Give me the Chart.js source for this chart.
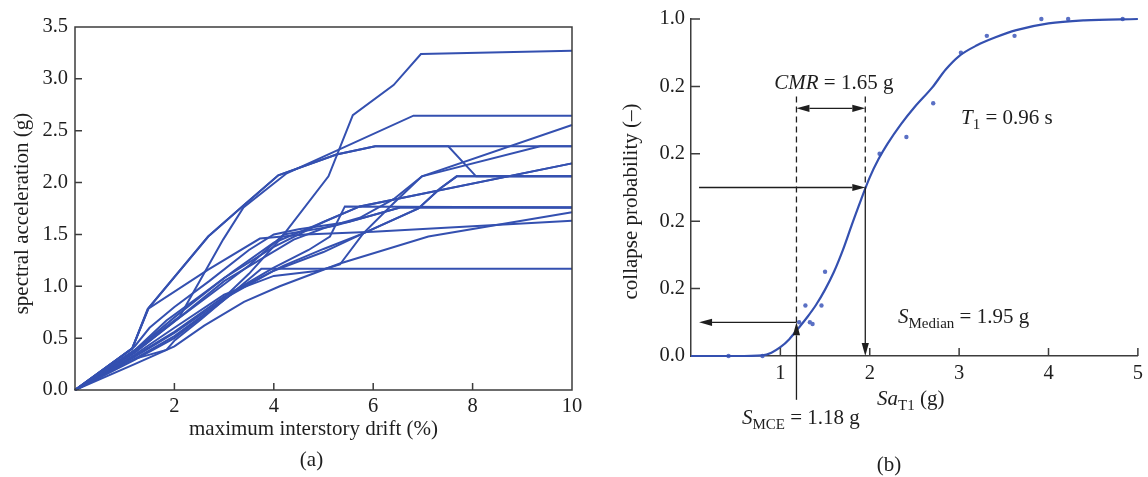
<!DOCTYPE html>
<html>
<head>
<meta charset="utf-8">
<script src="https://cdn.jsdelivr.net/npm/chart.js@4"></script>
<style>
  html, body { margin: 0; padding: 0; background: #fff; }
  #wrap { position: relative; width: 1148px; height: 477px; }
  canvas { position: absolute; top: 0; }
  #ida { left: 0; }
  #frag { left: 600px; }
</style>
</head>
<body>
<div id="wrap">
  <canvas id="ida" width="600" height="477"></canvas>
  <canvas id="frag" width="548" height="477"></canvas>
</div>
<script>
"use strict";

// (a) IDA curves, one per record: [max interstory drift (%), Sa (g)]
const ida01 = [[0,0],[1.2,0.30],[2.0,0.52],[2.8,0.80],[3.5,1.12],[4.12,1.45],[5.10,2.06],[5.59,2.65],[6.41,2.94],[6.96,3.24],[10,3.27]];
const ida02 = [[0,0],[1.2,0.38],[2.11,0.71],[2.98,1.45],[3.39,1.76],[4.26,2.09],[6.81,2.645],[10,2.645]];
const ida03 = [[0,0],[1.15,0.40],[1.48,0.79],[2.68,1.48],[3.39,1.78],[4.09,2.07],[5.26,2.27],[6.04,2.35],[10,2.35]];
const ida04 = [[0,0],[1.15,0.40],[1.48,0.79],[2.68,1.48],[3.39,1.78],[4.09,2.07],[5.26,2.27],[6.04,2.35],[7.51,2.35],[8.07,2.06],[10,2.06]];
const ida05 = [[0,0],[1.2,0.34],[2.0,0.60],[3.0,0.92],[4.0,1.10],[4.9,1.15],[5.33,1.21],[5.80,1.51],[6.41,1.80],[6.98,2.06],[10,2.555]];
const ida06 = [[0,0],[1.2,0.36],[2.0,0.66],[3.0,1.05],[3.6,1.22],[4.4,1.45],[5.0,1.56],[5.73,1.66],[6.41,1.84],[6.98,2.06],[9.36,2.35],[10,2.35]];
const ida07 = [[0,0],[1.2,0.38],[2.0,0.70],[3.0,1.08],[4.0,1.38],[5.0,1.62],[5.73,1.77],[10,2.185]];
const ida08 = [[0,0],[1.2,0.32],[2.0,0.55],[3.0,0.88],[4.0,1.15],[5.0,1.33],[5.8,1.51],[6.91,1.75],[7.34,1.94],[7.68,2.06],[10,2.06]];
const ida09 = [[0,0],[1.2,0.33],[2.0,0.56],[3.0,0.90],[4.0,1.18],[4.7,1.35],[5.13,1.48],[5.43,1.77],[10,1.76]];
const ida10 = [[0,0],[1.2,0.36],[2.0,0.66],[3.0,1.02],[3.5,1.20],[4.2,1.50],[5.2,1.58],[6.54,1.76],[10,1.76]];
const ida11 = [[0,0],[1.2,0.25],[2.0,0.42],[2.6,0.62],[3.4,0.85],[4.12,1.0],[5.33,1.22],[7.11,1.48],[10,1.714]];
const ida12 = [[0,0],[1.15,0.40],[1.46,0.78],[2.68,1.16],[3.72,1.46],[4.63,1.50],[6.0,1.527],[10,1.633]];
const ida13 = [[0,0],[1.2,0.30],[1.84,0.386],[2.01,0.48],[2.52,0.675],[3.2,0.95],[3.75,1.17],[10,1.17]];
const ida14 = [[0,0],[1.24,0.40],[1.84,0.67],[2.5,0.90],[3.2,1.15],[4.0,1.42],[4.8,1.58],[5.73,1.77],[10,2.185]];
const ida15 = [[0,0],[1.2,0.42],[1.5,0.60],[2.0,0.80],[2.7,1.05],[3.5,1.35],[4.0,1.50],[4.5,1.55],[5.5,1.62],[6.54,1.76],[10,1.76]];
const ida16 = [[0,0],[1.2,0.29],[2.0,0.50],[2.6,0.72],[3.3,0.98],[4.2,1.20],[5.0,1.36],[5.8,1.51],[6.91,1.75],[7.34,1.94],[7.68,2.06],[10,2.06]];
const idaCurves = [ida01, ida02, ida03, ida04, ida05, ida06, ida07, ida08,
                   ida09, ida10, ida11, ida12, ida13, ida14, ida15, ida16];

// (b) fitted fragility curve
const fitSa = [0, 0.5, 0.8, 0.9, 1.0, 1.1, 1.2, 1.3, 1.4, 1.5, 1.6, 1.7, 1.8, 1.9, 2.0, 2.1,
               2.2, 2.35, 2.5, 2.7, 2.85, 3.0, 3.2, 3.4, 3.64, 4.0, 4.4, 5.0];
const fitP  = [0, 0, 0.002, 0.01, 0.026, 0.05, 0.082, 0.115, 0.152, 0.197, 0.25, 0.315, 0.39, 0.462, 0.53, 0.585,
               0.63, 0.688, 0.738, 0.797, 0.85, 0.89, 0.922, 0.945, 0.967, 0.987, 0.996, 1.0];
// (b) collapse fraction counted at each intensity level
const recSa = [0.42, 0.80, 1.21, 1.28, 1.33, 1.36, 1.46, 1.50, 2.11, 2.41, 2.71, 3.02, 3.31, 3.62, 3.92, 4.22, 4.83];
const recP  = [0, 0, 0.10, 0.15, 0.10, 0.095, 0.15, 0.25, 0.60, 0.65, 0.75, 0.90, 0.95, 0.95, 1.0, 1.0, 1.0];

const probTickText = ["0.0", "0.2", "0.2", "0.2", "0.2", "1.0"];

// (b) annotated values
const sMce = 1.18;
const sMedian = 1.95;
const cmr = 1.65;
const pAtMce = 0.10;
const pMedian = 0.5;
const period = 0.96;

const SERIF = '"Liberation Serif", "Times New Roman", serif';
const BLUE = "#3450b0";
const DOT = "#5a70c4";
const AXIS = "#3c3c3c";
const INK = "#1e1e1e";

function drawRuns(ctx, runs, x, y, align) {
    let w = 0;
    runs.forEach(r => { ctx.font = r.font; w += ctx.measureText(r.t).width; });
    let cx = align === "center" ? x - w / 2 : x;
    ctx.textAlign = "left";
    ctx.textBaseline = "alphabetic";
    runs.forEach(r => {
        ctx.font = r.font;
        ctx.fillText(r.t, cx, y + (r.dy || 0));
        cx += ctx.measureText(r.t).width;
    });
}

function arrow(ctx, x1, y1, x2, y2, both) {
    const len = 13, half = 3.6;
    const d = Math.hypot(x2 - x1, y2 - y1);
    const ux = (x2 - x1) / d, uy = (y2 - y1) / d;
    const sx = both ? x1 + ux * len : x1, sy = both ? y1 + uy * len : y1;
    ctx.beginPath();
    ctx.moveTo(sx, sy);
    ctx.lineTo(x2 - ux * len, y2 - uy * len);
    ctx.stroke();
    const head = (tx, ty, dx, dy) => {
        ctx.beginPath();
        ctx.moveTo(tx, ty);
        ctx.lineTo(tx - dx * len - dy * half, ty - dy * len + dx * half);
        ctx.lineTo(tx - dx * len + dy * half, ty - dy * len - dx * half);
        ctx.closePath();
        ctx.fill();
    };
    head(x2, y2, ux, uy);
    if (both) head(x1, y1, -ux, -uy);
}

const F_MAIN = "21px " + SERIF;
const F_ITAL = "italic 21px " + SERIF;
const F_SUB = "15px " + SERIF;

const idaFrame = {
    id: "idaFrame",
    afterDraw(chart) {
        const {ctx, chartArea: a, scales: {x, y}} = chart;
        ctx.save();
        ctx.strokeStyle = AXIS;
        ctx.lineWidth = 1.5;
        ctx.strokeRect(a.left, a.top, a.right - a.left, a.bottom - a.top);
        ctx.beginPath();
        x.ticks.forEach(t => {
            if (t.value > x.min && t.value < x.max) {
                const px = x.getPixelForValue(t.value);
                ctx.moveTo(px, a.bottom);
                ctx.lineTo(px, a.bottom - 7);
            }
        });
        y.ticks.forEach(t => {
            if (t.value > y.min && t.value < y.max) {
                const py = y.getPixelForValue(t.value);
                ctx.moveTo(a.left, py);
                ctx.lineTo(a.left + 7, py);
            }
        });
        ctx.stroke();

        ctx.fillStyle = INK;
        ctx.font = F_MAIN;
        ctx.textAlign = "center";
        ctx.textBaseline = "alphabetic";
        const mid = (a.left + a.right) / 2;
        ctx.fillText("maximum interstory drift (%)", mid - 10, a.bottom + 45);
        ctx.fillText("(a)", mid - 12, a.bottom + 76);
        ctx.translate(28, (a.top + a.bottom) / 2 + 5);
        ctx.rotate(-Math.PI / 2);
        ctx.fillText("spectral acceleration (g)", 0, 0);
        ctx.restore();
    }
};

const fragNotes = {
    id: "fragNotes",
    afterDatasetsDraw(chart) {
        const {ctx, chartArea: a, scales: {x, y}} = chart;
        const X = v => x.getPixelForValue(v);
        const Y = v => y.getPixelForValue(v);
        ctx.save();

        // inward tick marks
        ctx.strokeStyle = AXIS;
        ctx.lineWidth = 1.5;
        ctx.beginPath();
        x.ticks.forEach(t => {
            if (t.value > 0) { ctx.moveTo(X(t.value), a.bottom); ctx.lineTo(X(t.value), a.bottom - 8); }
        });
        y.ticks.forEach(t => {
            if (t.value > 0.01) { ctx.moveTo(a.left, Y(t.value)); ctx.lineTo(a.left + 9, Y(t.value)); }
        });
        ctx.stroke();

        // guide lines and arrows
        ctx.strokeStyle = INK;
        ctx.fillStyle = INK;
        ctx.lineWidth = 1.3;
        const xm = X(sMce), xd = X(sMedian), xl = X(0.09);
        const yTop = Y(0.77), yCmr = Y(0.735), yMce = Y(pAtMce), yMed = Y(pMedian);
        ctx.setLineDash([6, 4]);
        ctx.beginPath();
        ctx.moveTo(xm, yTop); ctx.lineTo(xm, yMce);
        ctx.moveTo(xd, yTop); ctx.lineTo(xd, yMed);
        ctx.stroke();
        ctx.setLineDash([]);
        arrow(ctx, xm, yCmr, xd, yCmr, true);
        arrow(ctx, xl, yMed, xd, yMed, false);
        arrow(ctx, xd, yMed, xd, a.bottom, false);
        arrow(ctx, xm, yMce, xl, yMce, false);
        arrow(ctx, xm, Y(-0.13), xm, yMce, false);

        // labels
        ctx.fillStyle = INK;
        drawRuns(ctx, [{t: "CMR", font: F_ITAL}, {t: " = " + cmr.toFixed(2) + " g", font: F_MAIN}],
                 (xm + xd) / 2 + 3, 89, "center");
        drawRuns(ctx, [{t: "T", font: F_ITAL}, {t: "1", font: F_SUB, dy: 5},
                       {t: " = " + period.toFixed(2) + " s", font: F_MAIN}], 361, 124, "left");
        drawRuns(ctx, [{t: "S", font: F_ITAL}, {t: "Median", font: F_SUB, dy: 5},
                       {t: " = " + sMedian.toFixed(2) + " g", font: F_MAIN}], 298, 323, "left");
        drawRuns(ctx, [{t: "S", font: F_ITAL}, {t: "MCE", font: F_SUB, dy: 5},
                       {t: " = " + sMce.toFixed(2) + " g", font: F_MAIN}], 142, 424, "left");
        drawRuns(ctx, [{t: "Sa", font: F_ITAL}, {t: "T1", font: F_SUB, dy: 5},
                       {t: " (g)", font: F_MAIN}], 277, 405, "left");
        drawRuns(ctx, [{t: "(b)", font: F_MAIN}], 289, 471, "center");

        ctx.font = F_MAIN;
        ctx.textAlign = "center";
        ctx.translate(37, (a.top + a.bottom) / 2 + 14);
        ctx.rotate(-Math.PI / 2);
        ctx.fillText("collapse probability (\u2013)", 0, 0);
        ctx.restore();
    }
};

const tickFont = {family: SERIF, size: 20.5};

new Chart(document.getElementById("ida"), {
    type: "scatter",
    data: {
        datasets: idaCurves.map(c => ({
            data: c.map(p => ({x: p[0], y: p[1]})),
            showLine: true,
            borderColor: BLUE,
            borderWidth: 2,
            pointRadius: 0,
            tension: 0,
            clip: false
        }))
    },
    options: {
        responsive: false,
        animation: false,
        events: [],
        layout: {padding: {left: 0, top: 27, right: 28, bottom: 0}},
        plugins: {legend: {display: false}, tooltip: {enabled: false}},
        scales: {
            x: {
                type: "linear", min: 0, max: 10,
                grid: {display: false, drawTicks: false},
                border: {display: false},
                ticks: {stepSize: 2, autoSkip: false, padding: 4, color: INK, font: tickFont,
                        callback: v => v === 0 ? "" : String(v)},
                afterFit: s => { s.height = 87; }
            },
            y: {
                type: "linear", min: 0, max: 3.5,
                grid: {display: false, drawTicks: false},
                border: {display: false},
                ticks: {stepSize: 0.5, autoSkip: false, padding: 7, color: INK, font: tickFont,
                        callback: v => v.toFixed(1)},
                afterFit: s => { s.width = 75; }
            }
        }
    },
    plugins: [idaFrame]
});

new Chart(document.getElementById("frag"), {
    type: "scatter",
    data: {
        datasets: [{
            data: fitSa.map((v, i) => ({x: v, y: fitP[i]})),
            showLine: true,
            borderColor: BLUE,
            borderWidth: 2.2,
            pointRadius: 0,
            cubicInterpolationMode: "monotone",
            clip: false
        }, {
            data: recSa.map((v, i) => ({x: v, y: recP[i]})),
            showLine: false,
            pointRadius: 2.2,
            pointBorderWidth: 0,
            pointBackgroundColor: DOT,
            clip: false
        }]
    },
    options: {
        responsive: false,
        animation: false,
        events: [],
        layout: {padding: {left: 0, top: 19, right: 9, bottom: 0}},
        plugins: {legend: {display: false}, tooltip: {enabled: false}},
        scales: {
            x: {
                type: "linear", min: 0, max: 5,
                grid: {display: false, drawTicks: false},
                border: {display: true, color: AXIS, width: 1.5},
                ticks: {stepSize: 1, autoSkip: false, padding: 5, color: INK, font: tickFont,
                        callback: v => v === 0 ? "" : String(v)},
                afterFit: s => { s.height = 121; }
            },
            y: {
                type: "linear", min: 0, max: 1,
                grid: {display: false, drawTicks: false},
                border: {display: true, color: AXIS, width: 1.5},
                ticks: {stepSize: 0.2, autoSkip: false, padding: 6, color: INK, font: tickFont,
                        callback: (v, i) => probTickText[i]},
                afterFit: s => { s.width = 91; }
            }
        }
    },
    plugins: [fragNotes]
});
</script>
</body>
</html>
